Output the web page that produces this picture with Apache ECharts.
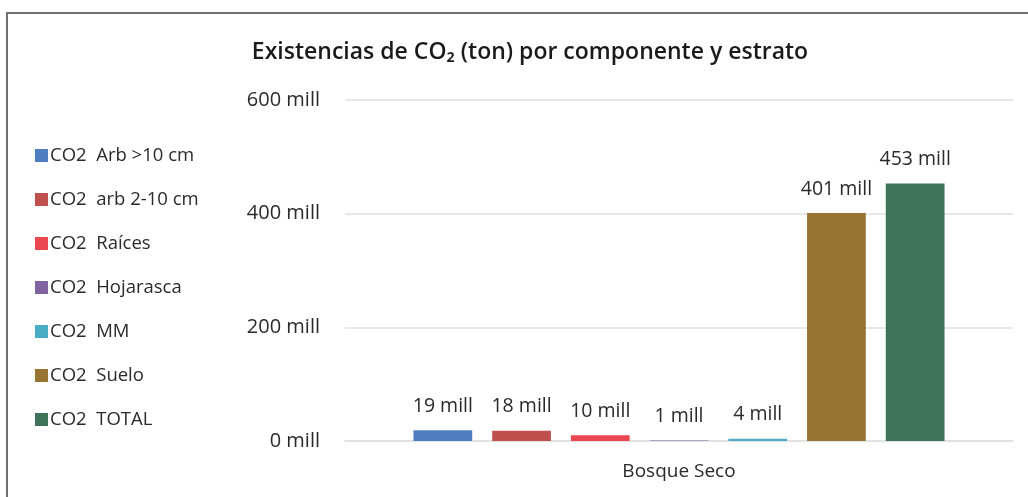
<!DOCTYPE html>
<html>
<head>
<meta charset="utf-8">
<script src="https://cdn.jsdelivr.net/npm/echarts@6/dist/echarts.min.js"></script>
<style>
	html, body { margin: 0; padding: 0; background: #fff; }
	#chart { width: 1028px; height: 497px; }
</style>
</head>
<body>
<div id="chart"></div>
<script>
var categories = ['Bosque Seco'];
var seriesNames = ['CO2  Arb >10 cm', 'CO2  arb 2-10 cm', 'CO2  Raíces', 'CO2  Hojarasca', 'CO2  MM', 'CO2  Suelo', 'CO2  TOTAL'];
var seriesValues = [19, 18, 10, 1, 4, 401, 453];
var seriesColors = ['#4f7fc0', '#c0504d', '#ea4750', '#8064a2', '#4bacc6', '#977432', '#3f7359'];
var yTicks = [0, 200, 400, 600];

var font = '"Open Sans", Lato, sans-serif';

var myChart = echarts.init(document.getElementById('chart'));

var series = seriesNames.map(function(name, i) {
	return {
		name: name,
		type: 'bar',
		data: [seriesValues[i]],
		barGap: '34%',
		barCategoryGap: '20.5%',
		itemStyle: { color: seriesColors[i] },
		label: {
			show: true,
			position: 'top',
			distance: 14,
			formatter: function(p) { return p.value + ' mill'; },
			color: '#2a2a2a',
			fontSize: 19.5,
			fontFamily: font
		}
	};
});

var option = {
	backgroundColor: '#fff',
	animation: false,
	title: {
		text: 'Existencias de CO₂ (ton) por componente y estrato',
		left: 525,
		textAlign: 'center',
		top: 36,
		textStyle: { color: '#1a1a1a', fontSize: 23, fontWeight: 600, fontFamily: font }
	},
	legend: {
		orient: 'vertical',
		left: 30,
		top: 141,
		itemWidth: 13,
		itemHeight: 13,
		itemGap: 25,
		icon: 'rect',
		textStyle: { color: '#2a2a2a', fontSize: 18.5, fontFamily: font, padding: [0, 0, 0, -3] },
		data: seriesNames
	},
	grid: {
		left: 345,
		right: 15,
		top: 100,
		bottom: 56,
		containLabel: false
	},
	xAxis: {
		type: 'category',
		data: categories,
		axisLine: { show: true, lineStyle: { color: '#e0e0e0', width: 1.5 } },
		axisTick: { show: false },
		axisLabel: { color: '#2a2a2a', fontSize: 19, fontFamily: font, margin: 21 }
	},
	yAxis: {
		type: 'value',
		min: yTicks[0],
		max: yTicks[yTicks.length - 1],
		interval: 200,
		axisLine: { show: false },
		axisTick: { show: false },
		splitLine: { lineStyle: { color: '#e0e0e0', width: 1.5 } },
		axisLabel: {
			color: '#2a2a2a',
			fontSize: 20,
			fontFamily: font,
			margin: 25,
			formatter: function(v) { return v + ' mill'; }
		}
	},
	graphic: [{
		type: 'rect',
		shape: { x: 7, y: 13, width: 1040, height: 520 },
		style: { fill: 'none', stroke: '#707070', lineWidth: 2 },
		silent: true
	}],
	series: series
};

myChart.setOption(option);
window.onresize = function() {
	myChart.resize();
};
</script>
</body>
</html>
